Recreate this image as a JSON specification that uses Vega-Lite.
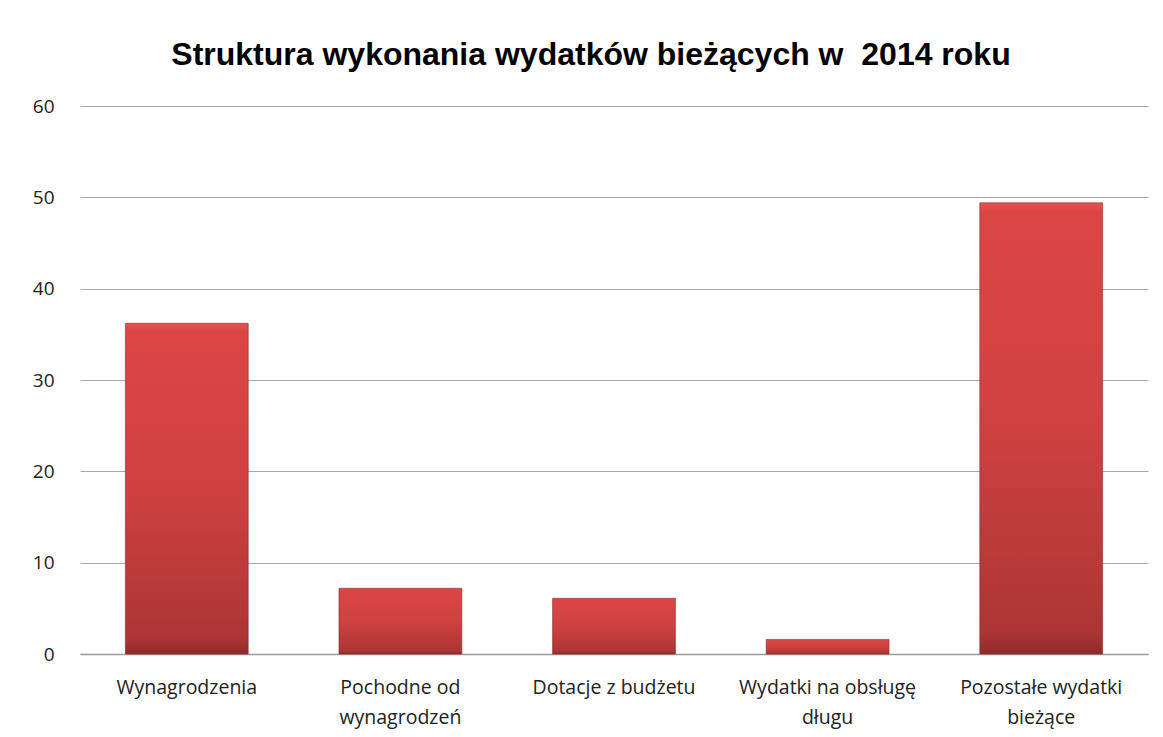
{
  "$schema": "https://vega.github.io/schema/vega-lite/v6.json",
  "autosize": {"type": "none"},
  "width": 1068,
  "height": 548,
  "padding": {"left": 80, "top": 106, "right": 15, "bottom": 83},
  "background": "white",
  "title": {
    "text": "Struktura wykonania wydatków bieżących w\u00a0 2014 roku",
    "font": "Liberation Sans",
    "fontSize": 32,
    "fontWeight": "bold",
    "color": "#000000",
    "anchor": "middle",
    "dx": -23,
    "offset": 25
  },
  "data": {
    "values": [
      {"kategoria": "Wynagrodzenia", "wartosc": 36.2},
      {"kategoria": "Pochodne od|wynagrodzeń", "wartosc": 7.2},
      {"kategoria": "Dotacje z budżetu", "wartosc": 6.1},
      {"kategoria": "Wydatki na obsługę|długu", "wartosc": 1.6},
      {"kategoria": "Pozostałe wydatki|bieżące", "wartosc": 49.4}
    ]
  },
  "mark": {
    "type": "bar",
    "color": {
      "gradient": "linear",
      "x1": 0, "y1": 0, "x2": 0, "y2": 1,
      "stops": [
        {"offset": 0, "color": "#e85252"},
        {"offset": 0.02, "color": "#dd4545"},
        {"offset": 0.5, "color": "#cf4141"},
        {"offset": 0.95, "color": "#ad3535"},
        {"offset": 1, "color": "#8f2b2b"}
      ]
    },
    "stroke": "#8a2a2a",
    "strokeWidth": 0.6
  },
  "encoding": {
    "x": {
      "field": "kategoria",
      "type": "nominal",
      "sort": null,
      "scale": {"paddingInner": 0.425, "paddingOuter": 0.2125},
      "axis": {
        "title": null,
        "labelAngle": 0,
        "labelExpr": "split(datum.label, '|')",
        "labelFont": "Open Sans",
        "labelFontSize": 19.5,
        "labelColor": "#222222",
        "labelLineHeight": 30,
        "labelPadding": 33,
        "labelBaseline": "middle",
        "ticks": false,
        "domain": true,
        "domainColor": "#9a9a9a",
        "domainWidth": 1.3
      }
    },
    "y": {
      "field": "wartosc",
      "type": "quantitative",
      "scale": {"domain": [0, 60], "nice": false},
      "axis": {
        "title": null,
        "values": [0, 10, 20, 30, 40, 50, 60],
        "labelFont": "Open Sans",
        "labelFontSize": 19,
        "labelColor": "#222222",
        "labelPadding": 26,
        "ticks": false,
        "domain": false,
        "grid": true,
        "gridColor": "#a8a8a8",
        "gridWidth": 1
      }
    }
  },
  "config": {
    "view": {"stroke": null}
  }
}
